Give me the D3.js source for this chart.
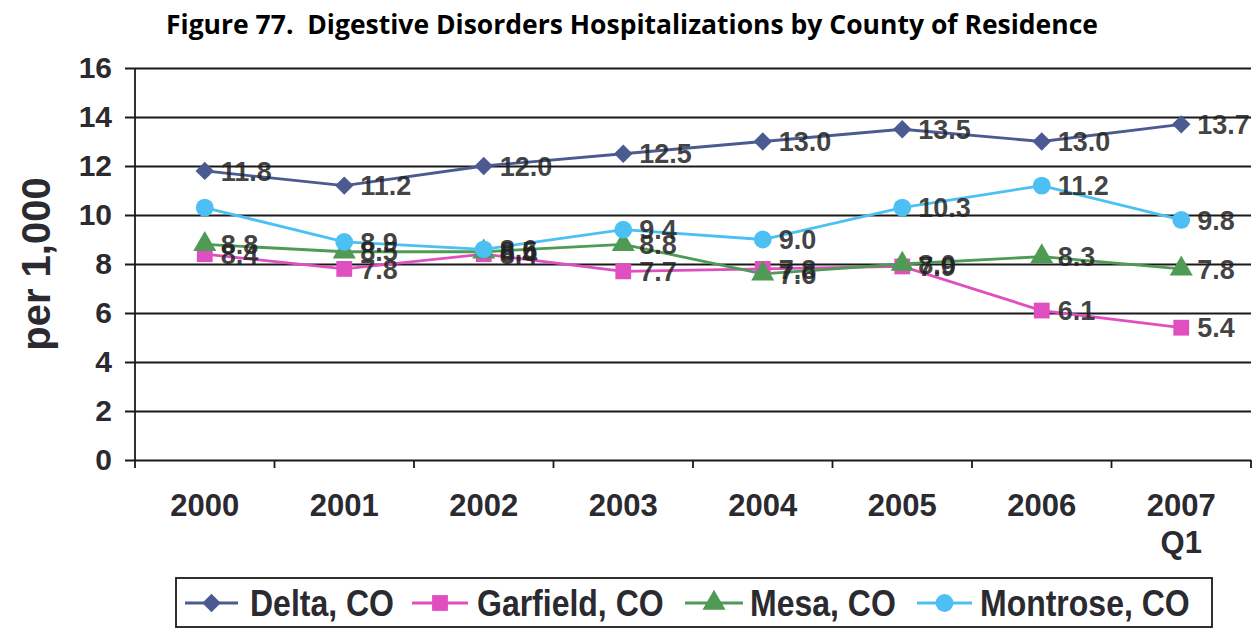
<!DOCTYPE html>
<html>
<head>
<meta charset="utf-8">
<script src="https://cdn.jsdelivr.net/npm/d3@7"></script>
<style>
  body { margin: 0; background: #fff; }
  text { font-family: "Liberation Sans", Arial, sans-serif; }
</style>
</head>
<body>
<script>
const years = ["2000", "2001", "2002", "2003", "2004", "2005", "2006", "2007\nQ1"];
const yTicks = [0, 2, 4, 6, 8, 10, 12, 14, 16];

const delta = [11.8, 11.2, 12.0, 12.5, 13.0, 13.5, 13.0, 13.7];
const garfield = [8.4, 7.8, 8.4, 7.7, 7.8, 7.9, 6.1, 5.4];
const mesa = [8.8, 8.5, 8.5, 8.8, 7.6, 8.0, 8.3, 7.8];
const montrose = [10.3, 8.9, 8.6, 9.4, 9.0, 10.3, 11.2, 9.8];

const seriesNames = ["Delta, CO", "Garfield, CO", "Mesa, CO", "Montrose, CO"];
const seriesValues = [delta, garfield, mesa, montrose];
const seriesColors = ["#4b5b92", "#e04fc0", "#4f9a55", "#4cc0f2"];
const seriesMarkers = [d3.symbolSquare, d3.symbolSquare, d3.symbolTriangle, d3.symbolCircle];
const markerSizes = [170, 250, 230, 250];
// the first Montrose point carries no value label in the original
const hiddenLabels = [[3, 0]];

const W = 1258, H = 638;
const svg = d3.select("body").append("svg")
    .attr("width", W)
    .attr("height", H);

const x = d3.scaleBand()
    .domain(years)
    .range([135, 1251])
    .padding(0);

const y = d3.scaleLinear()
    .domain([0, 16])
    .range([460, 68]);

const cx = d => x(d) + x.bandwidth() / 2;
const markerRot = s => (s === 0 ? " rotate(45)" : "");

// title
svg.append("text")
    .attr("x", 632)
    .attr("y", 34)
    .attr("text-anchor", "middle")
    .style("font-family", "'Open Sans', sans-serif")
    .style("font-weight", "bold")
    .style("font-size", "26.5px")
    .attr("fill", "#000")
    .text("Figure 77.\u00a0\u00a0Digestive Disorders Hospitalizations by County of Residence");

// gridlines
const grid = svg.append("g")
    .attr("transform", "translate(1251,0)")
    .call(d3.axisLeft(y).tickValues(yTicks).tickSize(1251 - 125).tickFormat(""));
grid.select(".domain").remove();
grid.selectAll("line").attr("stroke", "#1a1a1a").attr("stroke-width", 1.8);

// y axis labels
const yAxis = svg.append("g")
    .attr("transform", "translate(124,0)")
    .call(d3.axisLeft(y).tickValues(yTicks).tickSize(0).tickPadding(12));
yAxis.select(".domain").remove();
yAxis.selectAll("text")
    .style("font-size", "30px")
    .style("font-weight", "bold")
    .attr("fill", "#2a2a30");

// vertical axis line
svg.append("line")
    .attr("x1", 135).attr("x2", 135)
    .attr("y1", 68).attr("y2", 468)
    .attr("stroke", "#1a1a1a").attr("stroke-width", 1.8);

// x axis with ticks on category boundaries
const xAxis = svg.append("g")
    .attr("transform", "translate(0,460)");
xAxis.selectAll("line.tk")
    .data(years)
    .enter().append("line")
    .attr("class", "tk")
    .attr("x1", d => x(d) + x.bandwidth())
    .attr("x2", d => x(d) + x.bandwidth())
    .attr("y1", 0).attr("y2", 8)
    .attr("stroke", "#1a1a1a").attr("stroke-width", 1.8);

const xl = xAxis.selectAll("text.xl")
    .data(years)
    .enter().append("text")
    .attr("class", "xl")
    .attr("x", d => cx(d))
    .attr("y", 56)
    .attr("text-anchor", "middle")
    .style("font-size", "31px")
    .style("font-weight", "bold")
    .attr("fill", "#2a2a30");
xl.each(function(d) {
    const parts = d.split("\n");
    const t = d3.select(this);
    parts.forEach((p, i) => {
        t.append("tspan")
            .attr("x", cx(d))
            .attr("dy", i === 0 ? 0 : 37)
            .text(p);
    });
});

// y title
svg.append("text")
    .attr("transform", "translate(50,264) rotate(-90)")
    .attr("text-anchor", "middle")
    .style("font-size", "40px")
    .style("font-weight", "bold")
    .attr("fill", "#2a2a30")
    .text("per 1,000");

// series
const line = d3.line()
    .x((d, i) => cx(years[i]))
    .y(d => y(d));

seriesValues.forEach((vals, s) => {
    svg.append("path")
        .datum(vals)
        .attr("d", line)
        .attr("fill", "none")
        .attr("stroke", seriesColors[s])
        .attr("stroke-width", 2.8);
});

seriesValues.forEach((vals, s) => {
    svg.selectAll(null)
        .data(vals)
        .enter().append("path")
        .attr("transform", (d, i) => "translate(" + cx(years[i]) + "," + y(d) + ")" + markerRot(s))
        .attr("d", d3.symbol().type(seriesMarkers[s]).size(markerSizes[s]))
        .attr("fill", seriesColors[s]);
});

seriesValues.forEach((vals, s) => {
    svg.selectAll(null)
        .data(vals.map((v, i) => ({ v, i })).filter(d => !hiddenLabels.some(h => h[0] === s && h[1] === d.i)))
        .enter().append("text")
        .attr("x", d => cx(years[d.i]) + 16)
        .attr("y", d => y(d.v))
        .attr("dy", "0.36em")
        .style("font-size", "27px")
        .style("font-weight", "bold")
        .attr("fill", "#222")
        .attr("fill-opacity", 0.85)
        .text(d => d.v.toFixed(1));
});

// legend
const legend = svg.append("g");
legend.append("rect")
    .attr("x", 176).attr("y", 578)
    .attr("width", 1036).attr("height", 49)
    .attr("fill", "#fff")
    .attr("stroke", "#1a1a1a").attr("stroke-width", 1.8);

const legendLine = [[185, 238], [412, 468], [685, 743], [917, 972]];
const legendText = [250, 477, 750, 980];
seriesNames.forEach((name, s) => {
    const g = legend.append("g").attr("transform", "translate(0,603)");
    const l = legendLine[s];
    g.append("line")
        .attr("x1", l[0]).attr("x2", l[1])
        .attr("stroke", seriesColors[s]).attr("stroke-width", 2.8);
    g.append("path")
        .attr("transform", "translate(" + (l[0] + l[1]) / 2 + ",0)" + markerRot(s))
        .attr("d", d3.symbol().type(seriesMarkers[s]).size(markerSizes[s]))
        .attr("fill", seriesColors[s]);
    g.append("text")
        .attr("transform", "translate(" + legendText[s] + ",0) scale(1,1.15)")
        .attr("dy", "0.36em")
        .style("font-size", "32px")
        .style("font-weight", "bold")
        .attr("fill", "#2a2a30")
        .text(name);
});
</script>
</body>
</html>
